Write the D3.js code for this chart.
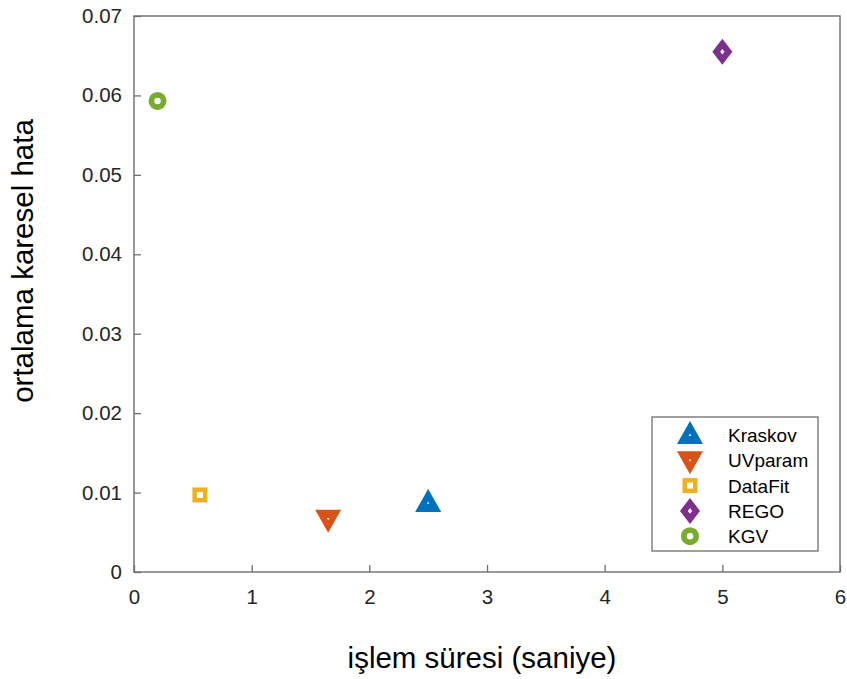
<!DOCTYPE html>
<html>
<head>
<meta charset="utf-8">
<script src="https://cdn.jsdelivr.net/npm/d3@7"></script>
<style>
  body { margin: 0; background: #fff; }
  text { font-family: "Liberation Sans", Arial, sans-serif; }
</style>
</head>
<body>
<div id="chart"></div>
<script>
// method names, processing time (s), mean squared error
const methods = ['Kraskov', 'UVparam', 'DataFit', 'REGO', 'KGV'];
const times = [2.5, 1.65, 0.56, 5.0, 0.2];
const errors = [0.0087, 0.0067, 0.0097, 0.0655, 0.0593];
const shapes = ['up', 'down', 'square', 'diamond', 'circle'];
const colors = ['#0072BD', '#D95319', '#EDB120', '#7E2F8E', '#77AC30'];
const xTicks = [0, 1, 2, 3, 4, 5, 6];
const yTicks = [0, 0.01, 0.02, 0.03, 0.04, 0.05, 0.06, 0.07];

const width = 847;
const height = 679;
const margin = {top: 16, left: 134, bottom: 107, right: 7};

const data = methods.map((m, i) => ({name: m, x: times[i], y: errors[i], shape: shapes[i], color: colors[i]}));

const x = d3.scaleLinear()
  .domain([0, 6])
  .range([margin.left, width - margin.right]);

const y = d3.scaleLinear()
  .domain([0, 0.07])
  .range([height - margin.bottom, margin.top]);

const svg = d3.select('#chart').append('svg')
  .attr('width', width)
  .attr('height', height);

const axisColor = '#6e6e6e';

const xAxis = g => g
  .attr('transform', `translate(0, ${height - margin.bottom})`)
  .call(d3.axisBottom(x).tickValues(xTicks).tickFormat(d3.format('d'))
    .tickSize(-7).tickSizeOuter(0).tickPadding(17))
  .call(g => g.select('.domain').remove());

const yAxis = g => g
  .attr('transform', `translate(${margin.left}, 0)`)
  .call(d3.axisLeft(y).tickValues(yTicks).tickFormat(d => d === 0 ? '0' : d3.format('.2f')(d))
    .tickSize(-7).tickSizeOuter(0).tickPadding(12))
  .call(g => g.select('.domain').remove());

svg.append('g').call(xAxis);
svg.append('g').call(yAxis);

svg.selectAll('.tick line').attr('stroke', axisColor).attr('stroke-width', 1.3);
svg.selectAll('.tick text')
  .attr('font-size', 20.5)
  .attr('fill', '#262626')
  .attr('font-family', '"Liberation Sans", Arial, sans-serif');

// box around the plot area
svg.append('rect')
  .attr('x', x(0))
  .attr('y', y(0.07))
  .attr('width', x(6) - x(0))
  .attr('height', y(0) - y(0.07))
  .attr('fill', 'none')
  .attr('stroke', axisColor)
  .attr('stroke-width', 1.4);

// marker outline path for each shape, with a small hole in the middle
function markerPath(shape, k) {
  if (shape === 'up') return `M0,${-14 * k}L${13 * k},${9 * k}L${-13 * k},${9 * k}Z`;
  if (shape === 'down') return `M0,${14 * k}L${13 * k},${-9 * k}L${-13 * k},${-9 * k}Z`;
  if (shape === 'square') return `M${-7.5 * k},${-7.5 * k}H${7.5 * k}V${7.5 * k}H${-7.5 * k}Z`;
  if (shape === 'diamond') return `M0,${-13 * k}L${10 * k},0L0,${13 * k}L${-10 * k},0Z`;
  const r = 9 * k;
  return `M${r},0A${r},${r} 0 1,1 ${-r},0A${r},${r} 0 1,1 ${r},0Z`;
}
const holeScale = {up: 0.1, down: 0.1, square: 0.4, diamond: 0.22, circle: 0.36};

function drawMarker(g, d) {
  g.append('path').attr('d', markerPath(d.shape, 1)).attr('fill', d.color);
  g.append('path').attr('d', markerPath(d.shape, holeScale[d.shape])).attr('fill', '#fff');
}

svg.append('g')
  .selectAll('g').data(data).enter().append('g')
  .attr('transform', d => `translate(${x(d.x)}, ${y(d.y)})`)
  .each(function(d) { drawMarker(d3.select(this), d); });

// legend
const legend = svg.append('g').attr('transform', 'translate(652, 417)');
legend.append('rect')
  .attr('width', 166)
  .attr('height', 134)
  .attr('fill', '#fff')
  .attr('stroke', axisColor)
  .attr('stroke-width', 1.3);

const rows = legend.selectAll('.row').data(data).enter().append('g')
  .attr('class', 'row')
  .attr('transform', (d, i) => `translate(0, ${18 + i * 25.3})`);
rows.append('g')
  .attr('transform', 'translate(38, 0)')
  .each(function(d) { drawMarker(d3.select(this), d); });
rows.append('text')
  .attr('x', 76)
  .attr('y', 7)
  .attr('font-size', 19)
  .attr('fill', '#000')
  .text(d => d.name);

// axis titles
svg.append('text')
  .attr('x', 482)
  .attr('y', 668)
  .attr('text-anchor', 'middle')
  .attr('font-size', 29.5)
  .attr('fill', '#000')
  .text('işlem süresi (saniye)');

svg.append('text')
  .attr('transform', 'translate(33, 261) rotate(-90)')
  .attr('text-anchor', 'middle')
  .attr('font-size', 29.5)
  .attr('fill', '#000')
  .text('ortalama karesel hata');
</script>
</body>
</html>
